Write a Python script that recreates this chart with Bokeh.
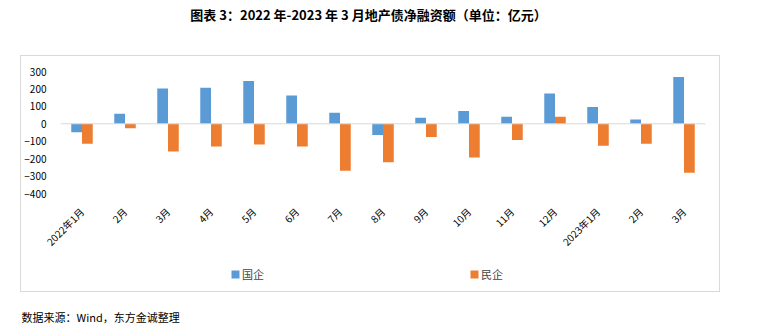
import numpy as np
from bokeh.plotting import figure
from bokeh.layouts import column, row
from bokeh.models import (Range1d, FixedTicker, Span, Label, Legend, LegendItem,
                          ColumnDataSource, Spacer)
from bokeh.transform import dodge
from bokeh.embed import file_html
from bokeh.resources import INLINE

# ---- data ----
months = ["2022年1月", "2月", "3月", "4月", "5月", "6月", "7月", "8月", "9月",
          "10月", "11月", "12月", "2023年1月", "2月", "3月"]
soe = [-48, 57, 202, 207, 246, 163, 63, -65, 35, 74, 41, 174, 96, 24, 269]
private = [-115, -26, -159, -131, -119, -131, -270, -220, -76, -193, -93, 41, -126, -115, -281]
y_ticks = [-400, -300, -200, -100, 0, 100, 200, 300]
series_names = ["国企", "民企"]
colors = ["#5B9BD5", "#ED7D31"]
title_text = "图表 3：2022 年-2023 年 3 月地产债净融资额（单位：亿元）"
source_text = "数据来源：Wind，东方金诚整理"

FONT = "Noto Sans CJK SC"
W = 765

# ---- title strip ----
TH = 55
pt = figure(width=W, height=TH, output_backend="svg", toolbar_location=None,
            x_range=Range1d(0, W), y_range=Range1d(0, TH),
            x_axis_type=None, y_axis_type=None, min_border=0)
pt.outline_line_color = None
pt.grid.visible = False
pt.add_layout(Label(x=368, y=TH - 14, text=title_text, text_align="center",
                    text_baseline="middle", text_font=FONT, text_font_style="bold",
                    text_font_size="13px", text_color="#000000"))

# ---- main chart ----
MW = 698
MH = 200
idx = list(range(len(months)))
src = ColumnDataSource(dict(x=idx, soe=soe, private=private))

p = figure(width=MW, height=MH, output_backend="svg", toolbar_location=None,
           x_range=Range1d(-0.5, len(months) - 0.5),
           y_range=Range1d(min(y_ticks), max(y_ticks)),
           min_border_left=37, min_border_right=14, min_border_top=15,
           min_border_bottom=MH - 15 - 126)
p.outline_line_color = None
p.xgrid.visible = False
p.ygrid.visible = False

p.vbar(x=dodge("x", -0.125, range=p.x_range), top="soe", width=0.25,
       source=src, color=colors[0], line_color=None)
p.vbar(x=dodge("x", 0.125, range=p.x_range), top="private", width=0.25,
       source=src, color=colors[1], line_color=None)

p.add_layout(Span(location=0, dimension="width", line_color="#D9D9D9", line_width=1))

p.yaxis.ticker = FixedTicker(ticks=y_ticks)
p.yaxis.axis_line_color = None
p.yaxis.major_tick_line_color = None
p.yaxis.minor_tick_line_color = None
p.yaxis.major_label_standoff = 8
p.yaxis.major_label_text_font = FONT
p.yaxis.major_label_text_font_size = "10px"
p.yaxis.major_label_text_color = "#000000"

p.xaxis.ticker = FixedTicker(ticks=idx)
p.xaxis.major_label_overrides = {i: m for i, m in zip(idx, months)}
p.xaxis.axis_line_color = None
p.xaxis.major_tick_line_color = None
p.xaxis.minor_tick_line_color = None
p.xaxis.major_label_orientation = np.pi / 4
p.xaxis.major_label_standoff = 10
p.xaxis.major_label_text_font = FONT
p.xaxis.major_label_text_font_size = "10px"
p.xaxis.major_label_text_color = "#000000"

# ---- legend strip (inside the box) ----
LH = 35
pl = figure(width=MW, height=LH, output_backend="svg", toolbar_location=None,
            x_range=Range1d(0, 1), y_range=Range1d(0, 1),
            x_axis_type=None, y_axis_type=None, min_border=0)
pl.outline_line_color = None
pl.grid.visible = False
lr1 = pl.quad(left=[-5], right=[-4], bottom=[-5], top=[-4], color=colors[0], line_color=None)
lr2 = pl.quad(left=[-5], right=[-4], bottom=[-5], top=[-4], color=colors[1], line_color=None)
legend = Legend(items=[LegendItem(label=series_names[0], renderers=[lr1]),
                       LegendItem(label=series_names[1], renderers=[lr2])],
                orientation="horizontal", location=(170, LH - 20 - 6),
                padding=0, margin=0, spacing=205, glyph_width=10, glyph_height=10,
                label_standoff=2, label_text_font=FONT, label_text_font_size="11px",
                label_height=10,
                border_line_color=None, background_fill_alpha=0)
pl.add_layout(legend, "center")

box = column(p, pl, spacing=0, styles={"border": "1px solid #D9D9D9"})

# ---- source strip ----
SH = 336 - TH - (MH + LH + 2)
ps = figure(width=W, height=SH, output_backend="svg", toolbar_location=None,
            x_range=Range1d(0, W), y_range=Range1d(0, SH),
            x_axis_type=None, y_axis_type=None, min_border=0)
ps.outline_line_color = None
ps.grid.visible = False
ps.add_layout(Label(x=21, y=SH - (316 - 292), text=source_text, text_align="left",
                    text_baseline="middle", text_font=FONT, text_font_size="11px",
                    text_color="#000000"))

layout = column(pt, row(Spacer(width=20, height=MH + LH + 2), box), ps, spacing=0)
open("out.html", "w").write(file_html(layout, INLINE))
